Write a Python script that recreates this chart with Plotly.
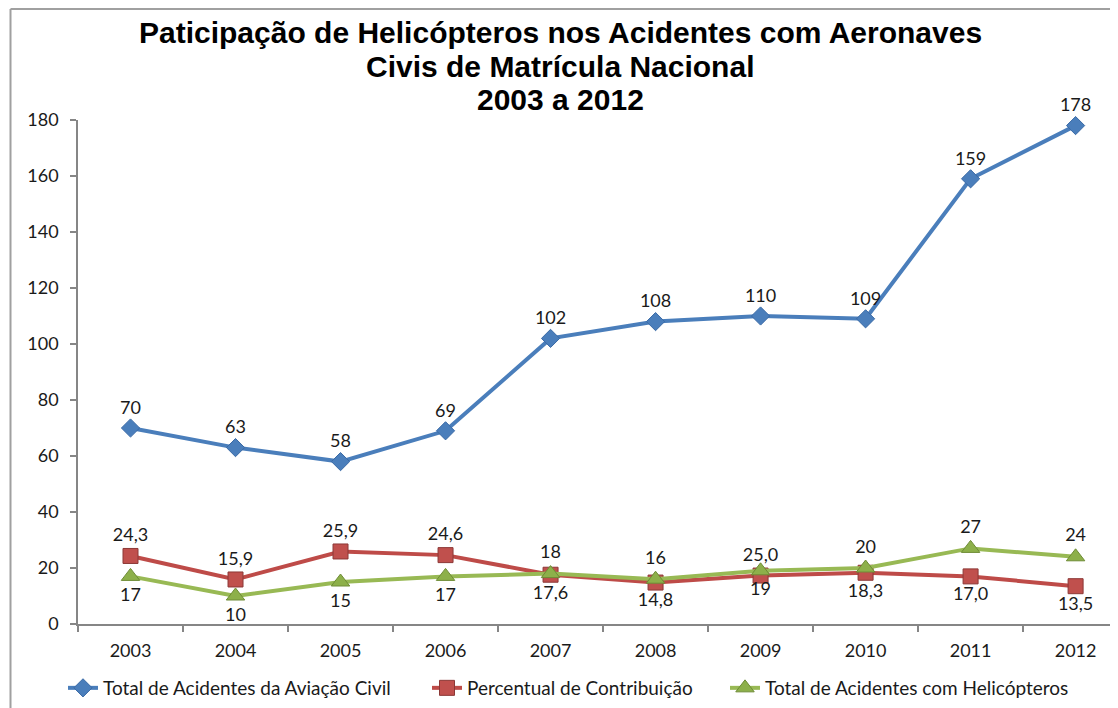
import plotly.graph_objects as go

years = ["2003", "2004", "2005", "2006", "2007", "2008", "2009", "2010", "2011", "2012"]
total_civil = [70, 63, 58, 69, 102, 108, 110, 109, 159, 178]
percentual = [24.3, 15.9, 25.9, 24.6, 17.6, 14.8, 17.3, 18.3, 17.0, 13.5]
percentual_labels = ["24,3", "15,9", "25,9", "24,6", "17,6", "14,8", "25,0", "18,3", "17,0", "13,5"]
total_heli = [17, 10, 15, 17, 18, 16, 19, 20, 27, 24]

names = ["Total de Acidentes da Aviação Civil", "Percentual de Contribuição",
         "Total de Acidentes com Helicópteros"]
title_lines = ["Paticipação de Helicópteros nos Acidentes com Aeronaves",
               "Civis de Matrícula Nacional", "2003 a 2012"]
y_ticks = [0, 20, 40, 60, 80, 100, 120, 140, 160, 180]

pos_red = ["top center"] * 4 + ["bottom center"] * 2 + ["top center"] + ["bottom center"] * 3
pos_green = ["bottom center"] * 4 + ["top center"] * 2 + ["bottom center"] + ["top center"] * 3

FONT = "Lato"
TXT = dict(family=FONT, size=18, color="#1a1a1a")

OFF = 8  # page body margin
W, H = 1118, 708
L, T, B, R = 70, 112, 92, 0
PW = W - L - R
PH = H - T - B

def px2paper_x(px):
    return (px - OFF - L) / PW

def px2paper_y(py):
    return (H - B - (py - OFF)) / PH

fig = go.Figure()
fig.add_trace(go.Scatter(
    x=years, y=total_civil, name=names[0], mode="lines+markers+text",
    text=[str(v) for v in total_civil], textposition="top center", textfont=TXT,
    line=dict(color="#4A7EBB", width=4),
    marker=dict(symbol="diamond", size=14, color="#4A7EBB", line=dict(color="#3A6AA6", width=1)),
    legend="legend", cliponaxis=False))
fig.add_trace(go.Scatter(
    x=years, y=percentual, name=names[1], mode="lines+markers+text",
    text=percentual_labels, textposition=pos_red, textfont=TXT,
    line=dict(color="#BE4B48", width=4),
    marker=dict(symbol="square", size=15, color="#C0504D", line=dict(color="#8C3836", width=1)),
    legend="legend2", cliponaxis=False))
fig.add_trace(go.Scatter(
    x=years, y=total_heli, name=names[2], mode="lines+markers+text",
    text=[str(v) for v in total_heli], textposition=pos_green, textfont=TXT,
    line=dict(color="#98B954", width=4),
    marker=dict(symbol="triangle-up", size=16, color="#8DB04A", line=dict(color="#6E8C36", width=1)),
    legend="legend3", cliponaxis=False))

leg_common = dict(orientation="h", yanchor="middle", xanchor="left",
                  font=dict(family=FONT, size=19, color="#1a1a1a"),
                  bgcolor="rgba(0,0,0,0)", itemwidth=30, tracegroupgap=0)
y_leg = px2paper_y(688)

title_y = [33, 67, 100]
annotations = [dict(
    text="<b>%s</b>" % t, xref="paper", yref="paper",
    x=px2paper_x(560), y=px2paper_y(yy), xanchor="center", yanchor="middle",
    showarrow=False,
    font=dict(family="Liberation Sans, Arial", size=30, color="black"),
) for t, yy in zip(title_lines, title_y)]

fig.update_layout(
    width=W, height=H,
    margin=dict(l=L, r=R, t=T, b=B, pad=0),
    paper_bgcolor="white", plot_bgcolor="white",
    showlegend=True,
    legend=dict(x=px2paper_x(63), y=y_leg, **leg_common),
    legend2=dict(x=px2paper_x(427), y=y_leg, **leg_common),
    legend3=dict(x=px2paper_x(725), y=y_leg, **leg_common),
    xaxis=dict(type="category", range=[-0.5, 9.48], showgrid=False, zeroline=False,
               showline=True, linecolor="#868686", linewidth=1.5,
               ticks="outside", ticklen=6, tickcolor="#868686", tickwidth=1.5,
               tickson="boundaries", ticklabelstandoff=10,
               tickfont=TXT),
    yaxis=dict(range=[0, 180], tickvals=y_ticks, showgrid=False, zeroline=False,
               showline=True, linecolor="#868686", linewidth=1.5,
               ticks="outside", ticklen=6, tickcolor="#868686", tickwidth=1.5,
               ticklabelstandoff=8, tickfont=TXT),
    annotations=annotations,
    shapes=[
        dict(type="line", xref="paper", yref="paper",
             x0=px2paper_x(10.5), x1=px2paper_x(10.5), y0=px2paper_y(9), y1=px2paper_y(H + 20),
             line=dict(color="#A0A0A0", width=2)),
        dict(type="line", xref="paper", yref="paper",
             x0=px2paper_x(10.5), x1=px2paper_x(W + 20), y0=px2paper_y(9), y1=px2paper_y(9),
             line=dict(color="#A0A0A0", width=2)),
    ],
)

fig.write_html("out.html")
